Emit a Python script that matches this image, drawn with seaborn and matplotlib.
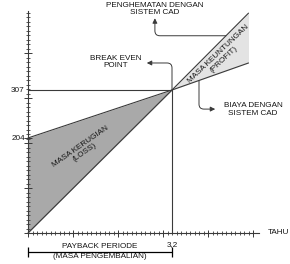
import numpy as np
import matplotlib
matplotlib.use("Agg")
import matplotlib.pyplot as plt
import seaborn as sns

# ---- data ----
years = [0.0, 3.2, 4.9]
savings = [0, 307, 472]        # penghematan dengan sistem CAD
cad_cost = [204, 307, 365]     # biaya dengan sistem CAD
bep_year = 3.2
bep_value = 307
y_label_values = [204, 307]
x_label_value = 3.2
x_label_text = "3,2"

# ---- style ----
sns.set_theme(style="ticks")
plt.rcParams['font.family'] = ['Liberation Sans', 'DejaVu Sans']

LC = "#3a3a3a"
TC = "#151515"
FS = 5.9
LOSS = "#a9a9a9"
PROFIT = "#e3e3e3"

K = 307 / 143.0          # value units per pixel (vertical)
PX = 1 / 45.0            # years per pixel (horizontal)
fig = plt.figure(figsize=(2.9, 2.64), dpi=100)
ax = fig.add_axes([0, 0, 1, 1])
ax.set_xlim(-28 * PX, 262 * PX)
ax.set_ylim(-31 * K, 233 * K)

# filled regions
ax.fill_between(years[:2], savings[:2], cad_cost[:2], color=LOSS, lw=0, zorder=1)
ax.fill_between(years[1:], savings[1:], cad_cost[1:], color=PROFIT, lw=0, zorder=1)

# lines
sns.lineplot(x=years, y=savings, color=LC, lw=0.8, ax=ax, zorder=3)
sns.lineplot(x=years, y=cad_cost, color=LC, lw=0.8, ax=ax, zorder=3)
ax.plot([0, bep_year], [bep_value, bep_value], color=LC, lw=0.8, zorder=3)
ax.plot([bep_year, bep_year], [0, bep_value], color=LC, lw=0.8, zorder=3)

# axes spines
for s in ["top", "right"]:
    ax.spines[s].set_visible(False)
ax.spines["left"].set_position(("data", 0))
ax.spines["bottom"].set_position(("data", 0))
ax.spines["left"].set_bounds(0, 222 * K)
ax.spines["bottom"].set_bounds(0, 5.13)
for s in ["left", "bottom"]:
    ax.spines[s].set_color(LC)
    ax.spines[s].set_linewidth(0.8)

# tick positions
step = 45 * K
x_major = np.arange(0, 5.5, 1.0)
x_minor = np.arange(0, 5.05, 0.1)
y_major = np.arange(0, 4.5) * step
y_minor = np.arange(0, 222 * K, step / 10)

# tick labels (matplotlib ticks, drawn without marks)
ax.set_xticks([x_label_value], labels=[x_label_text])
ax.set_yticks(y_label_values, labels=[str(v) for v in y_label_values])
ax.tick_params(axis="x", which="both", length=0, labelsize=FS, labelcolor=TC, pad=6)
ax.tick_params(axis="y", which="both", length=0, labelsize=FS, labelcolor=TC, pad=2.3)

# cross-shaped tick marks
ax.vlines(x_minor, -2 * K, 2 * K, color=LC, lw=0.6, zorder=4)
ax.vlines(x_major, -3.5 * K, 3.5 * K, color=LC, lw=0.7, zorder=4)
ax.hlines(y_minor, -2 * PX, 2 * PX, color=LC, lw=0.6, zorder=4)
ax.hlines(list(y_major) + [y_label_values[0]], -4 * PX, 4 * PX, color=LC, lw=0.7, zorder=4)

# annotations with arrows
arrow_kw = dict(arrowstyle="-|>", color=LC, lw=0.7, shrinkA=0, shrinkB=0, mutation_scale=7)
x_s = 4.4
ax.annotate("", xy=(2.82, 461), xytext=(x_s, np.interp(x_s, years, savings)),
            arrowprops=dict(connectionstyle="angle,angleA=0,angleB=90,rad=5", **arrow_kw))
ax.annotate("", xy=(2.64, 365), xytext=(bep_year, bep_value),
            arrowprops=dict(connectionstyle="angle,angleA=90,angleB=0,rad=5", **arrow_kw))
x_c = 3.8
ax.annotate("", xy=(4.16, 266), xytext=(x_c, np.interp(x_c, years, cad_cost)),
            arrowprops=dict(connectionstyle="angle,angleA=90,angleB=0,rad=5", **arrow_kw))

# texts
ax.text(2.82, 481, "PENGHEMATAN DENGAN\nSISTEM CAD", ha="center", va="center",
        fontsize=FS, color=TC, linespacing=1.15)
ax.text(1.95, 367, "BREAK EVEN\nPOINT", ha="center", va="center",
        fontsize=FS, color=TC, linespacing=1.15)
ax.text(5.0, 265, "BIAYA DENGAN\nSISTEM CAD", ha="center", va="center",
        fontsize=FS, color=TC, linespacing=1.15)
ax.text(4.29, 378, "MASA KEUNTUNGAN\n(PROFIT)", ha="center", va="center",
        rotation=43.5, rotation_mode="anchor", fontsize=FS, color=TC,
        linespacing=1.0, multialignment="center")
ax.text(1.22, 180, "MASA KERUGIAN\n(LOSS)", ha="center", va="center",
        rotation=35, rotation_mode="anchor", fontsize=FS, color=TC,
        linespacing=1.0, multialignment="center")
ax.text(5.33, 0, "TAHU", ha="left", va="center", fontsize=FS, color=TC)

# payback bracket
yb = -19 * K
ax.plot([0, bep_year], [yb, yb], color="black", lw=0.9, zorder=3)
ax.vlines([0, bep_year], yb - 5 * K, yb + 5 * K, color="black", lw=0.9, zorder=3)
ax.text(bep_year / 2, -14 * K, "PAYBACK PERIODE", ha="center", va="center",
        fontsize=FS, color=TC)
ax.text(bep_year / 2, -24 * K, "(MASA PENGEMBALIAN)", ha="center", va="center",
        fontsize=FS, color=TC)

fig.savefig("out.png", dpi=100)
